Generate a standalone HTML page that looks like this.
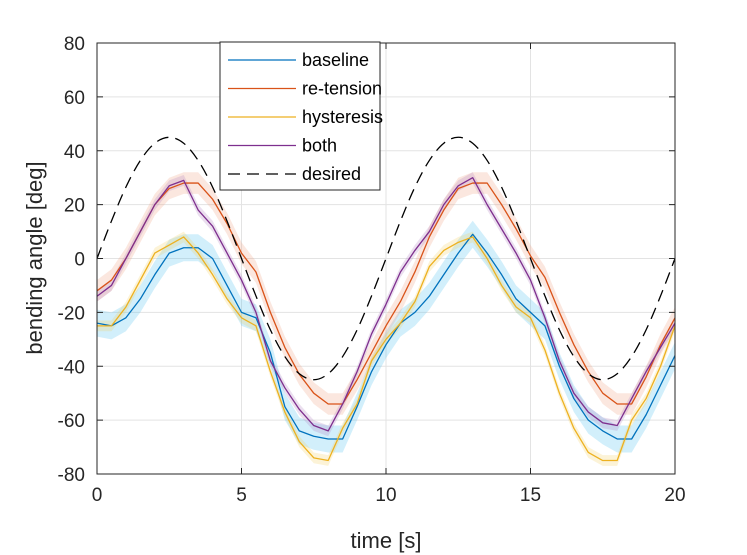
<!DOCTYPE html>
<html><head><meta charset="utf-8"><style>
body{margin:0;background:#fff}
svg{font-family:"Liberation Sans",Arial,sans-serif;display:block}
</style></head><body>
<svg id="chart" width="747" height="555" viewBox="0 0 747 555">
<rect width="747" height="555" fill="#fff"/>
<g id="grid"></g>
<g id="bands"></g>
<g id="lines"></g>
<g id="axes"></g>
<text x="386" y="548" font-size="22" text-anchor="middle" fill="#262626">time [s]</text>
<text transform="translate(42,258) rotate(-90)" font-size="22" text-anchor="middle" fill="#262626">bending angle [deg]</text>
<g id="legend"></g>
</svg>
<script>
const times=[0,0.5,1,1.5,2,2.5,3,3.5,4,4.5,5,5.5,6,6.5,7,7.5,8,8.5,9,9.5,10,10.5,11,11.5,12,12.5,13,13.5,14,14.5,15,15.5,16,16.5,17,17.5,18,18.5,19,19.5,20];
const baseline=[-24,-25,-22,-15,-6,2,4,4,0,-10,-20,-22,-35,-55,-64,-66,-67,-67,-55,-42,-32,-24,-20,-14,-6,2,9,2,-6,-15,-20,-25,-40,-52,-60,-64,-67,-67,-58,-47,-36];
const retension=[-12,-8,0,10,20,26,28,28,22,13,2,-5,-20,-33,-43,-50,-54,-54,-45,-35,-25,-16,-5,8,18,26,28,28,20,11,1,-7,-20,-32,-42,-50,-54,-54,-44,-32,-22];
const hysteresis=[-25,-25,-18,-8,2,5,8,2,-6,-15,-22,-25,-42,-57,-68,-74,-75,-63,-54,-38,-30,-24,-16,-3,3,6,8,0,-10,-18,-22,-34,-50,-63,-72,-75,-75,-60,-52,-40,-25];
const both=[-14,-10,0,10,20,27,29,18,12,2,-8,-20,-38,-48,-56,-62,-64,-54,-42,-28,-17,-5,3,10,20,27,30,20,11,2,-8,-22,-38,-50,-57,-61,-62,-52,-42,-33,-24];
const desired=[0,13.9,26.5,36.4,42.8,45,42.8,36.4,26.5,13.9,0,-13.9,-26.5,-36.4,-42.8,-45,-42.8,-36.4,-26.5,-13.9,0,13.9,26.5,36.4,42.8,45,42.8,36.4,26.5,13.9,0,-13.9,-26.5,-36.4,-42.8,-45,-42.8,-36.4,-26.5,-13.9,0];
const bandBaseline=5, bandRetension=4, bandHysteresis=2, bandBoth=2;
const xTicks=[0,5,10,15,20];
const yTicks=[-80,-60,-40,-20,0,20,40,60,80];
const legendLabels=["baseline","re-tension","hysteresis","both","desired"];

const X0=97,X1=675,Y0=474,Y1=43;
const sx=t=>X0+(t-0)/20*(X1-X0);
const sy=v=>Y0-(v+80)/160*(Y0-Y1);
const NS="http://www.w3.org/2000/svg";
function mk(tag,attrs,parent){const e=document.createElementNS(NS,tag);for(const k in attrs)e.setAttribute(k,attrs[k]);parent.appendChild(e);return e;}
const grid=document.getElementById('grid'),axes=document.getElementById('axes'),bands=document.getElementById('bands'),lines=document.getElementById('lines'),legend=document.getElementById('legend');

xTicks.forEach(t=>{
  const g=mk('line',{x1:sx(t),x2:sx(t),y1:Y1,y2:Y0,stroke:'#e3e3e3','stroke-width':1},grid);
  
  
  const tx=mk('text',{x:sx(t),y:Y0+27,'font-size':19,'text-anchor':'middle',fill:'#262626'},axes);
  tx.textContent=t;
  
  
  mk('line',{x1:sx(t),x2:sx(t),y1:Y0,y2:Y0-6,stroke:'#262626'},axes);
  mk('line',{x1:sx(t),x2:sx(t),y1:Y1,y2:Y1+6,stroke:'#262626'},axes);
});
yTicks.forEach(v=>{
  const g=mk('line',{x1:X0,x2:X1,y1:sy(v),y2:sy(v),stroke:'#e3e3e3','stroke-width':1},grid);
  
  
  const tx=mk('text',{x:X0-12,y:sy(v)+7,'font-size':19,'text-anchor':'end',fill:'#262626'},axes);
  tx.textContent=v;
  
  
  mk('line',{x1:X0,x2:X0+6,y1:sy(v),y2:sy(v),stroke:'#262626'},axes);
  mk('line',{x1:X1,x2:X1-6,y1:sy(v),y2:sy(v),stroke:'#262626'},axes);
});
const box=mk('rect',{x:X0,y:Y1,width:X1-X0,height:Y0-Y1,fill:'none',stroke:'#262626','stroke-width':1},axes);



function band(vals,w,color,name){
  let d='';
  times.forEach((t,i)=>{d+=(i?'L':'M')+sx(t)+','+sy(vals[i]+w);});
  for(let i=times.length-1;i>=0;i--)d+='L'+sx(times[i])+','+sy(vals[i]-w);
  const p=mk('path',{d:d+'Z',fill:color,opacity:0.25,stroke:'none'},bands);
  
  
}
function smoothPath(vals){
  const P=times.map((t,i)=>[sx(t),sy(vals[i])]);
  let d='M'+P[0][0]+','+P[0][1];
  for(let i=0;i<P.length-1;i++){
    const p0=P[Math.max(0,i-1)],p1=P[i],p2=P[i+1],p3=P[Math.min(P.length-1,i+2)];
    const c1=[p1[0]+(p2[0]-p0[0])/6,p1[1]+(p2[1]-p0[1])/6];
    const c2=[p2[0]-(p3[0]-p1[0])/6,p2[1]-(p3[1]-p1[1])/6];
    d+='C'+c1[0]+','+c1[1]+' '+c2[0]+','+c2[1]+' '+p2[0]+','+p2[1];
  }
  return d;
}
function line(vals,color,name,dash,smooth){
  let d='';
  if(smooth)d=smoothPath(vals);
  else times.forEach((t,i)=>{d+=(i?'L':'M')+sx(t)+','+sy(vals[i]);});
  const p=mk('path',{d:d,fill:'none',stroke:color,'stroke-width':1.3,'stroke-linejoin':'round'},lines);
  if(dash)p.setAttribute('stroke-dasharray',dash);
  
  
}
const cols=['#0072BD','#D95319','#EDB120','#7E2F8E','#000'];
band(baseline,bandBaseline,'#4DBEEE','baseline-band');
band(retension,bandRetension,'#F0A080','retension-band');
band(hysteresis,bandHysteresis,'#F5D060','hysteresis-band');
band(both,bandBoth,'#B080C0','both-band');
line(baseline,cols[0],'baseline-line');
line(retension,cols[1],'retension-line');
line(hysteresis,cols[2],'hysteresis-line');
line(both,cols[3],'both-line');
line(desired,cols[4],'desired-line','12,7',true);

const lb=mk('rect',{x:220,y:42,width:160,height:148,fill:'#fff',stroke:'#262626','stroke-width':1},legend);


legendLabels.forEach((lab,i)=>{
  const y=60+i*28.5;
  const ln=mk('line',{x1:228,x2:296,y1:y,y2:y,stroke:cols[i],'stroke-width':1.3},legend);
  if(i===4)ln.setAttribute('stroke-dasharray','12,7');
  
  
  const tx=mk('text',{x:302,y:y+6,'font-size':18,fill:'#000'},legend);
  tx.textContent=lab;
  
  
});
</script>
</body></html>
